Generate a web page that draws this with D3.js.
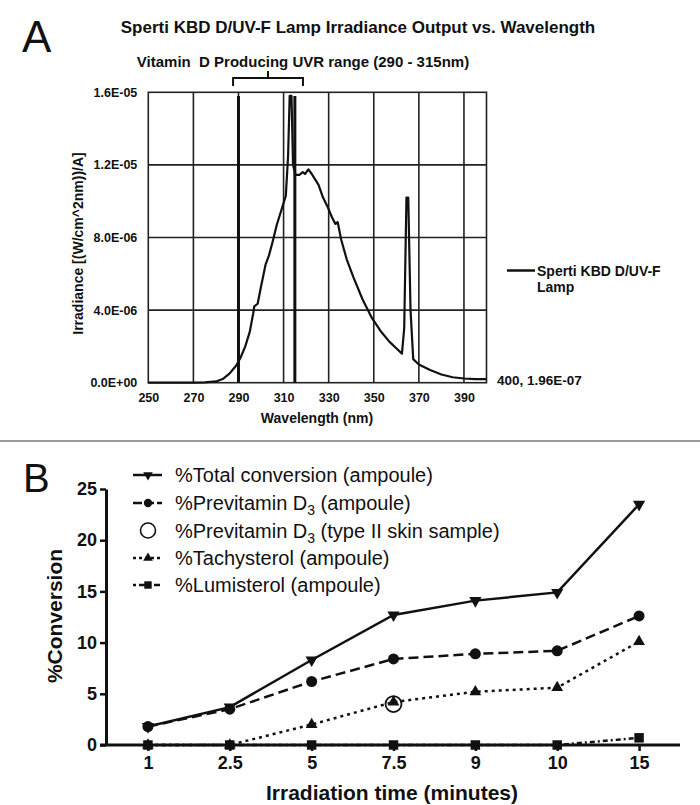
<!DOCTYPE html>
<html><head><meta charset="utf-8">
<script src="https://cdn.jsdelivr.net/npm/d3@7"></script>
<style>body{margin:0;background:#fff}svg{display:block;font-family:"Liberation Sans",Arial,sans-serif}</style>
</head><body><svg id="c" width="700" height="805"></svg>
<script>
// ---------- Panel A data ----------
const wavelengths = [250,260,270,275,280,283,286,289,291,293,295,296.5,297,298.5,300,302,303.5,305,307,309,311,312,312.7,313.5,314.2,315.3,317,318.5,319.5,321,322.5,324,325.5,327.5,329.5,331.5,333,334,335.5,338,341,345,349,353,357,360,362.5,363.5,364.5,365.3,366.3,367.5,370,375,380,385,390,395,400];
const irradiance = [0,0,0,0.02e-6,0.07e-6,0.2e-6,0.5e-6,0.95e-6,1.4e-6,2.0e-6,2.8e-6,3.8e-6,4.2e-6,4.35e-6,5.3e-6,6.5e-6,7.0e-6,7.7e-6,8.7e-6,9.5e-6,10.3e-6,12.5e-6,15.8e-6,15.8e-6,12.0e-6,11.45e-6,11.45e-6,11.6e-6,11.5e-6,11.75e-6,11.5e-6,11.2e-6,10.9e-6,10.2e-6,9.7e-6,9.1e-6,8.75e-6,8.85e-6,7.9e-6,6.8e-6,5.8e-6,4.6e-6,3.6e-6,2.85e-6,2.25e-6,1.9e-6,1.6e-6,3.0e-6,10.2e-6,10.2e-6,4.0e-6,1.3e-6,1.0e-6,0.7e-6,0.45e-6,0.3e-6,0.23e-6,0.2e-6,0.196e-6];
const rangeMarkers = [290, 315];
const markerTop = 15.8e-6;
const xTicksA = [250,270,290,310,330,350,370,390];
const yTicksA = [0,4e-6,8e-6,1.2e-5,1.6e-5];
const titleA = "Sperti KBD D/UV-F Lamp Irradiance Output vs. Wavelength";
const subtitleA = "Vitamin\u00a0 D Producing UVR range (290 - 315nm)";
const legendA = ["Sperti KBD D/UV-F", "Lamp"];
const endLabelA = "400, 1.96E-07";

// ---------- Panel B data ----------
const times = ["1","2.5","5","7.5","9","10","15"];
const totalConv = [1.8,3.7,8.3,12.7,14.1,14.9,23.5];
const previtD3 = [1.8,3.5,6.2,8.4,8.9,9.2,12.6];
const tachysterol = [0,0,2.0,4.2,5.2,5.6,10.1];
const lumisterol = [0,0,0,0,0,0,0.7];
const skinSample = [{t:"7.5", v:4.0}];
const yTicksB = [0,5,10,15,20,25];

const svg = d3.select("#c");
const ink = "#111";

// ================= PANEL A =================
const xA = d3.scaleLinear().domain([250,400]).range([148.3,486.5]);
const yA = d3.scaleLinear().domain([0,1.6e-5]).range([382.7,92.3]);
const sci = v => {
  if (v === 0) return "0.0E+00";
  const e = Math.floor(Math.log10(v) + 1e-9);
  const m = v / Math.pow(10, e);
  return m.toFixed(1) + "E" + (e < 0 ? "-" : "+") + String(Math.abs(e)).padStart(2, "0");
};

svg.append("text").attr("x",22).attr("y",52).attr("font-size",44).attr("fill",ink).text("A");
svg.append("text").attr("x",358).attr("y",33).attr("text-anchor","middle").attr("font-size",17).attr("font-weight","bold").attr("fill",ink).text(titleA);
svg.append("text").attr("x",303).attr("y",66.5).attr("text-anchor","middle").attr("font-size",15).attr("font-weight","bold").attr("fill",ink).text(subtitleA);

// bracket
const bx0 = xA(287.6), bx1 = xA(318.6), bxc = (bx0+bx1)/2;
svg.append("path").attr("fill","none").attr("stroke",ink).attr("stroke-width",2)
  .attr("d",`M${bx0},86 L${bx0},78 L${bx1},78 L${bx1},86 M${bxc},78 L${bxc},71`);

const gA = svg.append("g");
// grid
gA.selectAll(".vg").data(xTicksA.slice(1)).join("line")
  .attr("x1",d=>xA(d)).attr("x2",d=>xA(d)).attr("y1",yA(1.6e-5)).attr("y2",yA(0))
  .attr("stroke","#222").attr("stroke-width",1.6);
gA.selectAll(".hg").data(yTicksA.slice(1,-1)).join("line")
  .attr("x1",xA(250)).attr("x2",xA(400)).attr("y1",d=>yA(d)).attr("y2",d=>yA(d))
  .attr("stroke","#222").attr("stroke-width",1.6);
gA.append("rect").attr("x",xA(250)).attr("y",yA(1.6e-5)).attr("width",xA(400)-xA(250)).attr("height",yA(0)-yA(1.6e-5))
  .attr("fill","none").attr("stroke","#222").attr("stroke-width",1.6);

// range markers
gA.selectAll(".rm").data(rangeMarkers).join("line")
  .attr("x1",d=>xA(d)).attr("x2",d=>xA(d)).attr("y1",yA(markerTop)).attr("y2",yA(0))
  .attr("stroke",ink).attr("stroke-width",3);

// curve
const lineA = d3.line().x((d,i)=>xA(wavelengths[i])).y(d=>yA(d));
gA.append("path").datum(irradiance).attr("fill","none").attr("stroke",ink).attr("stroke-width",2.2)
  .attr("stroke-linejoin","round").attr("d",lineA);

// axes labels
const axYA = svg.append("g").attr("transform",`translate(${xA(250)},0)`)
  .call(d3.axisLeft(yA).tickValues(yTicksA).tickFormat(sci).tickSize(0).tickPadding(11));
axYA.select(".domain").remove();
axYA.selectAll("text").attr("font-size",12.5).attr("font-weight","bold").attr("fill",ink).attr("font-family","Liberation Sans, Arial, sans-serif");
const axXA = svg.append("g").attr("transform",`translate(0,${yA(0)})`)
  .call(d3.axisBottom(xA).tickValues(xTicksA).tickFormat(d3.format("d")).tickSize(0).tickPadding(10));
axXA.select(".domain").remove();
axXA.selectAll("text").attr("font-size",12.5).attr("font-weight","bold").attr("fill",ink).attr("font-family","Liberation Sans, Arial, sans-serif");

svg.append("text").attr("x",317).attr("y",423).attr("text-anchor","middle").attr("font-size",14).attr("font-weight","bold").attr("fill",ink).text("Wavelength (nm)");
svg.append("text").attr("transform","translate(83,243.5) rotate(-90)").attr("text-anchor","middle").attr("font-size",14).attr("font-weight","bold").attr("fill",ink).text("Irradiance [(W/cm^2nm))/A]");

// legend A
svg.append("line").attr("x1",507).attr("x2",535).attr("y1",270.5).attr("y2",270.5).attr("stroke",ink).attr("stroke-width",2.5);
svg.append("text").attr("x",537).attr("y",276).attr("font-size",14).attr("font-weight","bold").attr("fill",ink).text(legendA[0]);
svg.append("text").attr("x",537).attr("y",292).attr("font-size",14).attr("font-weight","bold").attr("fill",ink).text(legendA[1]);
svg.append("text").attr("x",497).attr("y",385).attr("font-size",13.5).attr("font-weight","bold").attr("fill",ink).text(endLabelA);

// separator
svg.append("line").attr("x1",0).attr("x2",700).attr("y1",441).attr("y2",441).attr("stroke","#9a9a9a").attr("stroke-width",2);

// ================= PANEL B =================
const xB = d3.scalePoint().domain(times).range([107,680]).padding(0.5);
const yB = d3.scaleLinear().domain([0,25]).range([745,489]);

svg.append("text").attr("x",23).attr("y",492).attr("font-size",40).attr("fill",ink).text("B");

const axYB = svg.append("g").attr("transform","translate(106,0)")
  .call(d3.axisLeft(yB).tickValues(yTicksB).tickSize(6).tickSizeOuter(0).tickPadding(3));
axYB.select(".domain").attr("stroke",ink).attr("stroke-width",3);
axYB.selectAll(".tick line").attr("stroke",ink).attr("stroke-width",2.5);
axYB.selectAll("text").attr("font-size",18).attr("font-weight","bold").attr("fill",ink).attr("font-family","Liberation Sans, Arial, sans-serif");

const axXB = svg.append("g").attr("transform","translate(0,745)")
  .call(d3.axisBottom(xB).tickSize(6).tickSizeOuter(0).tickPadding(5));
axXB.select(".domain").attr("d","M100,0H680").attr("stroke",ink).attr("stroke-width",3);
axXB.selectAll(".tick line").attr("stroke",ink).attr("stroke-width",2.5);
axXB.selectAll("text").attr("font-size",18).attr("font-weight","bold").attr("fill",ink).attr("font-family","Liberation Sans, Arial, sans-serif");

svg.append("text").attr("transform","translate(62,616) rotate(-90)").attr("text-anchor","middle").attr("font-size",21).attr("font-weight","bold").attr("fill",ink).text("%Conversion");
svg.append("text").attr("x",392).attr("y",800).attr("text-anchor","middle").attr("font-size",21).attr("font-weight","bold").attr("fill",ink).text("Irradiation time (minutes)");

const series = [
  {vals: lumisterol, dash: "5,3,2,3", sym: d3.symbolSquare, size: 90, rot: 0, lsize: 64},
  {vals: tachysterol, dash: "3,4", sym: d3.symbolTriangle, size: 60, rot: 0, lsize: 45},
  {vals: previtD3, dash: "10,5", sym: d3.symbolCircle, size: 95, rot: 0, lsize: 65},
  {vals: totalConv, dash: null, sym: d3.symbolTriangle, size: 65, rot: 180, lsize: 45},
];
const lineB = d3.line().x((d,i)=>xB(times[i])).y(d=>yB(d));
series.forEach(s => {
  svg.append("path").datum(s.vals).attr("fill","none").attr("stroke",ink).attr("stroke-width",2.5)
    .attr("stroke-dasharray",s.dash).attr("d",lineB);
  svg.append("g").selectAll("path").data(s.vals).join("path")
    .attr("transform",(d,i)=>`translate(${xB(times[i])},${yB(d)}) rotate(${s.rot})`)
    .attr("d",d3.symbol(s.sym,s.size)).attr("fill",ink);
});
svg.append("g").selectAll("circle").data(skinSample).join("circle")
  .attr("cx",d=>xB(d.t)).attr("cy",d=>yB(d.v)).attr("r",8).attr("fill","none").attr("stroke",ink).attr("stroke-width",1.8);

// legend B
const legendB = [
  {label:["%Total conversion (ampoule)"], dash:null, sym:d3.symbolTriangle, rot:180, size:40},
  {label:["%Previtamin D","3"," (ampoule)"], dash:"9,3", sym:d3.symbolCircle, rot:0, size:55},
  {label:["%Previtamin D","3"," (type II skin sample)"], open:true},
  {label:["%Tachysterol (ampoule)"], dash:"3,3", sym:d3.symbolTriangle, rot:0, size:40},
  {label:["%Lumisterol (ampoule)"], dash:"3,3,6,3", sym:d3.symbolSquare, rot:0, size:55},
];
const legY = [475,503,530.5,558,585];
legendB.forEach((e,i) => {
  const y = legY[i];
  if (e.open) {
    svg.append("circle").attr("cx",148).attr("cy",y).attr("r",7.5).attr("fill","none").attr("stroke",ink).attr("stroke-width",1.6);
  } else {
    svg.append("line").attr("x1",133).attr("x2",162).attr("y1",y).attr("y2",y).attr("stroke",ink).attr("stroke-width",2.5).attr("stroke-dasharray",e.dash);
    svg.append("path").attr("transform",`translate(148,${y}) rotate(${e.rot})`).attr("d",d3.symbol(e.sym,e.size)).attr("fill",ink);
  }
  const t = svg.append("text").attr("x",175).attr("y",y+7).attr("font-size",20).attr("fill",ink);
  t.append("tspan").text(e.label[0]);
  if (e.label.length > 1) {
    t.append("tspan").attr("dy",5).attr("font-size",14).text(e.label[1]);
    t.append("tspan").attr("dy",-5).text(e.label[2]);
  }
});
</script></body></html>
